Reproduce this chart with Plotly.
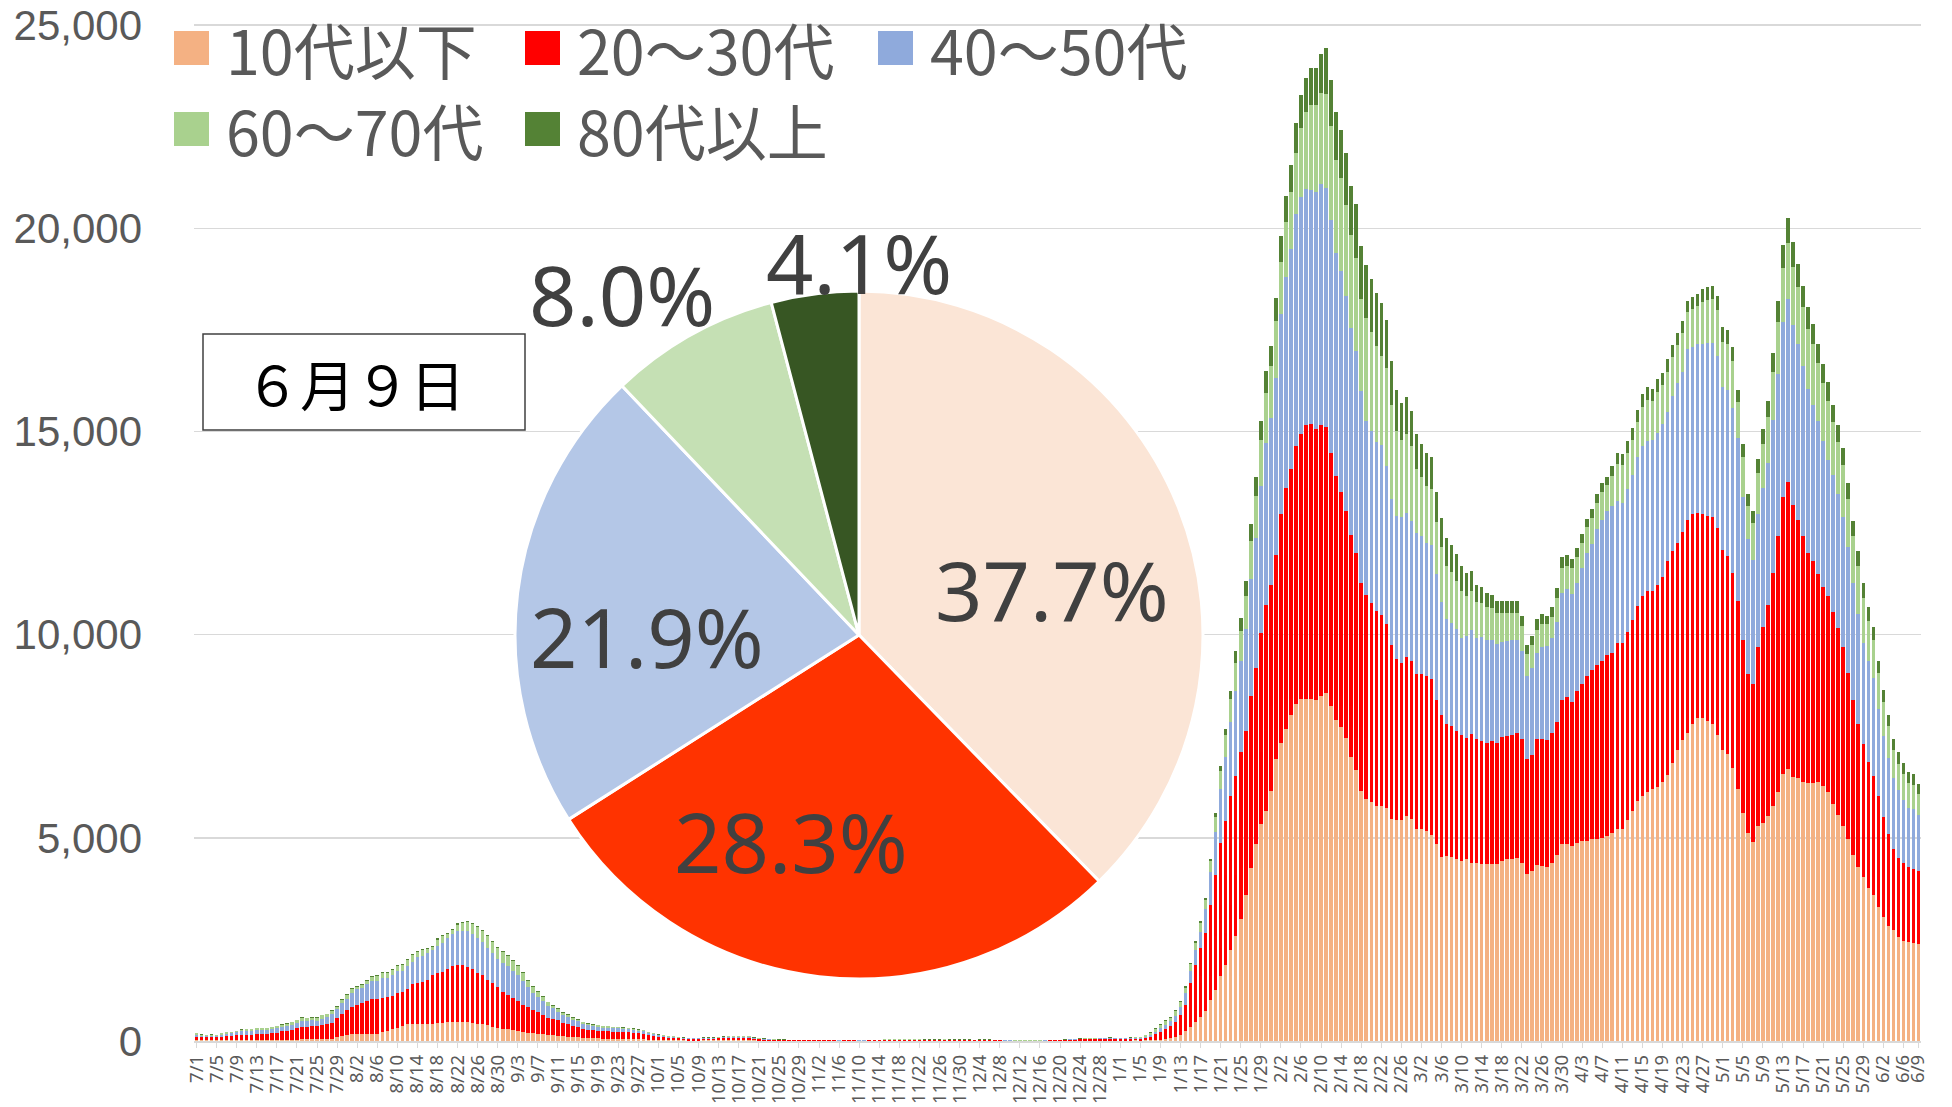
import plotly.graph_objects as go
import pandas as pd

# ---------------- data ----------------
series_names = ["10代以下", "20～30代", "40～50代", "60～70代", "80代以上"]
bar_colors = ["#F4B183", "#FF0000", "#8FAADC", "#A9D18E", "#548235"]
pie_colors = ["#FBE5D6", "#FF3300", "#B4C7E7", "#C5E0B4", "#375623"]

dates = pd.date_range("2021-07-01", "2022-06-09", freq="D")
date_labels = [f"{d.month}/{d.day}" for d in dates]

age_10 = [
    25,25,20,25,20,25,25,25,30,30,
    30,30,30,30,30,30,30,30,30,35,
    35,40,40,40,40,40,40,45,
    105,125,150,165,165,170,170,170,170,
    215,245,285,330,380,410,420,420,420,420,
    425,445,450,470,475,
    475,470,460,450,410,410,385,350,330,305,285,270,245,220,205,
    190,180,170,155,150,135,120,110,100,90,80,75,70,66,60,60,55,55,55,50,50,45,40,35,30,25,
    20,20,20,15,15,10,10,10,15,15,15,15,15,20,20,20,20,20,15,10,10,10,5,
    6,6,5,5,5,5,5,5,5,5,
    5,4,4,5,5,4,4,4,5,5,5,
    5,6,6,6,6,6,6,5,
    5,5,5,5,5,5,5,5,5,5,4,5,5,5,4,4,4,
    3,2,2,2,2,2,2,3,
    4,5,5,6,7,
    8,9,10,10,10,
    11,12,12,12,11,12,12,13,
    10,15,20,20,25,40,65,107,150,255,350,475,600,740,1010,1250,1600,1870,2230,2590,
    3000,3600,4250,4850,5340,5670,6160,6930,7340,7670,8030,8300,8410,8410,8410,8380,8490,8570,8250,7890,
    7720,7460,6980,6660,6160,5950,5870,5790,5790,5740,5460,5430,5430,5540,5460,5210,5210,5160,5080,4840,
    4520,4560,4520,4480,4430,4480,4390,4390,4360,4360,4360,4360,4430,4480,4480,4510,4390,4100,4180,4340,
    4300,4280,4370,4570,4860,4860,
    4810,4880,4930,4930,4970,4970,5000,5040,5130,5210,5210,5430,5660,5900,6030,6130,6190,6260,6370,6540,
    6830,7170,7410,7590,7810,7940,7940,7870,7790,7540,7170,7060,6730,6190,5610,5130,4900,5300,5370,5540,
    5790,6130,6570,6700,6500,6460,6370,6340,6340,6370,6270,6130,5830,5570,5300,4970,4570,4280,4040,3770,
    3600,3300,3040,2840,2730,2570,2460,2440,2410,2386,
]

age_20_30 = [
    80,80,70,75,70,80,90,100,110,120,
    120,125,135,140,150,160,175,210,225,235,
    275,305,305,330,330,345,370,405,
    455,530,610,680,720,755,820,865,870,
    850,845,830,860,835,870,980,1015,1040,1080,
    1200,1235,1255,1290,1370,
    1385,1390,1350,1310,1270,1215,1115,1070,1005,910,845,780,740,665,625,
    580,530,480,420,400,370,335,305,270,255,225,205,195,190,180,180,170,170,160,160,150,140,135,115,105,85,
    75,60,60,55,45,40,40,40,45,45,45,50,60,60,60,60,60,55,40,35,25,20,20,
    12,11,11,11,10,11,11,10,10,10,
    9,9,8,9,9,9,8,8,9,10,11,
    13,13,14,15,14,14,13,12,
    12,11,11,12,12,11,11,11,11,11,10,11,11,11,10,10,8,
    6,5,5,4,5,5,6,7,
    15,16,17,20,24,
    29,33,35,36,38,
    40,43,44,43,41,42,44,48,
    50,55,87,145,188,245,305,353,495,620,1070,1395,1680,1930,2340,2830,3280,3540,3800,3930,
    4100,4040,4240,4330,4710,5070,5070,5040,5630,5940,6040,6340,6520,6750,6770,6670,6670,6530,6230,6010,
    5800,5590,5480,5360,5100,5030,4920,4780,4700,4520,4290,3960,3880,3900,3880,3810,3810,3820,3820,3540,
    3510,3230,3230,3160,3090,2980,3170,3040,3020,2980,3020,2980,3050,3020,3060,3080,3040,2830,2870,3090,
    3130,3130,3200,3290,3540,3610,
    3530,3740,3860,4060,4150,4290,4360,4460,4430,4590,4590,4640,4700,4800,4910,4940,4880,4970,5060,5260,
    5240,5080,5120,5240,5150,5060,5020,5060,5100,5090,4920,4870,4790,4640,4260,3900,3890,4400,4830,5180,
    5730,6300,6820,7060,6700,6370,6060,5660,5460,5130,4890,4810,4730,4590,4400,4090,3820,3530,3260,3100,
    2930,2730,2460,2260,2000,1930,1910,1840,1830,1791,
]

age_40_50 = [
    45,25,35,35,40,55,65,65,75,95,
    100,100,105,105,100,115,115,115,125,125,
    125,155,155,140,130,155,170,215,
    220,270,280,345,385,385,410,440,445,
    475,470,500,530,515,575,550,625,630,675,
    615,665,695,765,785,
    835,845,890,880,860,805,800,740,685,705,705,670,635,590,490,
    410,370,330,285,250,220,190,170,150,135,120,110,105,95,90,90,85,85,80,80,75,65,65,55,45,35,
    25,20,20,15,15,15,15,15,15,15,15,15,20,20,20,20,20,20,15,15,15,10,10,
    10,10,9,9,8,9,9,9,8,8,
    7,7,7,7,8,7,7,7,7,8,9,
    10,11,11,11,11,11,10,10,
    9,9,9,9,10,9,9,9,9,8,8,8,9,9,8,7,7,
    5,4,3,3,3,4,4,6,
    5,5,6,6,8,
    9,10,11,12,12,
    13,14,14,14,13,13,14,15,
    20,35,43,48,97,110,130,160,200,295,300,370,410,570,800,1070,1310,1580,1810,2100,
    2260,2490,2870,3200,3610,3980,4100,4340,4910,5200,5410,5710,5830,5810,5770,5850,5920,5900,5730,5490,
    5430,5280,5080,4960,4740,4280,4210,4180,4170,3890,3590,3530,3590,3550,3460,3490,3410,3280,3310,3100,
    2770,2590,2530,2490,2400,2500,2560,2480,2550,2540,2490,2430,2340,2340,2320,2290,2160,2040,2130,2130,
    2260,2310,2350,2440,2630,2650,
    2660,2650,2860,3010,3110,3330,3470,3530,3600,3490,3430,3520,3560,3660,3690,3690,3720,3730,3760,3690,
    3790,3950,3940,4190,4130,4160,4200,4250,4290,4230,4000,4090,4060,4000,3520,3320,3040,3260,3400,3510,
    3770,3990,4300,4490,4420,4330,4190,4050,3850,3750,3600,3360,3370,3290,3190,3090,2880,2690,2490,2490,
    2410,2140,2000,1870,1740,1670,1560,1460,1460,1386,
]

age_60_70 = [
    35,30,25,25,20,25,30,25,25,35,
    40,35,45,45,40,35,40,45,45,65,
    70,70,65,60,70,90,75,85,
    65,85,95,90,65,75,80,105,115,
    140,125,135,130,145,130,155,125,145,100,
    80,150,190,105,95,
    170,200,220,240,260,270,280,280,270,270,250,240,220,190,150,
    140,120,105,90,65,60,55,55,45,40,40,35,30,34,35,35,35,35,30,30,25,25,20,20,20,15,
    20,15,15,15,10,10,10,10,10,10,10,15,15,20,20,20,20,20,15,15,10,10,10,
    9,7,7,7,7,7,7,7,7,6,
    6,6,6,6,6,6,6,5,6,6,7,
    12,12,13,14,13,12,12,12,
    11,11,10,11,11,11,10,10,10,10,10,10,10,10,10,9,8,
    6,5,4,4,4,5,5,6,
    4,4,4,5,6,
    7,8,8,9,9,
    10,10,11,10,10,10,11,11,
    20,35,50,80,90,100,75,110,115,145,170,175,220,235,280,370,450,540,570,690,
    740,820,950,1030,1140,1230,1280,1410,1300,1350,1420,1500,1700,1900,2080,2130,2250,2300,2300,2300,
    2280,2240,2300,2300,2250,2540,2440,2360,2200,2400,2300,2100,1900,1950,1830,1570,1450,1400,1370,1290,
    1350,1300,1250,1200,1150,1000,950,900,850,800,780,750,720,700,680,660,620,560,560,560,
    560,530,520,590,610,580,
    650,640,610,640,640,660,670,640,750,910,940,890,880,870,980,1010,960,1010,960,980,
    970,930,950,910,930,930,1030,1050,1070,1120,1120,1120,1150,890,980,820,920,1020,1090,1130,
    1180,1280,1340,1390,1430,1390,1430,1480,1500,1430,1420,1450,1300,1290,1280,1180,1150,1190,1110,980,
    930,880,830,770,680,650,630,620,605,506,
]

age_80 = [
    5,5,5,5,5,5,5,5,5,5,5,5,5,
    10,10,10,10,10,10,10,10,10,10,10,10,10,10,10,
    15,15,15,15,15,15,
    20,20,20,20,20,20,20,20,
    25,25,25,25,25,
    30,30,30,30,30,30,30,30,30,30,30,30,30,30,30,30,30,30,
    25,20,
    30,30,25,20,20,20,20,15,15,15,
    10,10,10,10,10,10,10,10,10,10,10,10,10,
    5,5,5,
    10,10,10,
    5,5,5,5,5,5,5,5,5,5,5,5,5,5,5,5,5,5,5,5,
    4,4,4,3,3,3,4,3,3,3,
    3,3,3,3,3,3,3,3,3,3,3,
    5,6,6,6,6,6,6,5,
    5,5,5,5,5,5,5,4,5,4,5,4,5,4,4,4,3,
    2,2,2,2,2,2,3,3,
    2,3,3,3,3,
    5,5,6,5,6,
    6,6,7,7,7,7,7,8,
    7,10,13,17,20,25,25,30,30,35,40,45,50,55,60,80,130,160,210,280,
    310,380,410,460,460,530,490,560,640,630,660,740,820,830,920,920,950,1130,1150,1180,
    1200,1280,1210,1310,1310,1300,1300,1300,1300,1200,1100,1000,900,900,880,850,820,800,780,750,
    720,700,680,650,620,560,500,420,380,350,330,300,280,280,280,280,250,220,230,260,
    250,220,230,250,260,260,
    220,220,210,210,220,220,230,220,250,280,280,280,290,290,310,320,300,320,300,310,
    300,290,300,290,300,290,320,330,340,350,350,350,360,300,320,280,300,340,370,400,
    450,520,560,620,600,560,540,520,500,480,470,470,430,420,420,400,380,380,360,330,
    320,310,300,290,280,280,270,270,265,260,
]

series_values = [age_10, age_20_30, age_40_50, age_60_70, age_80]
for s in series_values:
    assert len(s) == len(dates), len(s)

tick_idx = list(range(0, len(dates), 4)) + [len(dates) - 1]
tick_text = [date_labels[i] for i in tick_idx]
y_ticks = [0, 5000, 10000, 15000, 20000, 25000]

box_text = "６月９日"

# ---------------- figure ----------------
W, H = 1952, 1107
Y_MAX = 25100
L, R, B = 194, 1921, 1041
T = B - (B - 25) * Y_MAX / 25000.0
PW, PH = R - L, B - T


def px(x):
    return (x - L) / PW


def py(y):
    return (B - y) / PH


x_idx = list(range(len(dates)))
fig = go.Figure()
for name, vals, col in zip(series_names, series_values, bar_colors):
    fig.add_trace(go.Bar(
        x=x_idx, y=vals, name=name, marker=dict(color=col, line=dict(width=0)),
        showlegend=False, hoverinfo="skip",
    ))

last_vals = [s[-1] for s in series_values]
fig.add_trace(go.Pie(
    values=last_vals, labels=series_names, sort=False, direction="clockwise",
    rotation=0, textinfo="none", hoverinfo="skip", showlegend=False,
    marker=dict(colors=pie_colors, line=dict(color="white", width=3)),
    domain=dict(x=[px(859 - 344), px(859 + 344)], y=[py(979), py(291)]),
))

tot = sum(last_vals)
pct_text = [f"{v / tot * 100:.1f}%" for v in last_vals]
pct_pos = [(1052, 588), (791, 840), (647, 635), (622, 293), (859, 261)]

annotations = []
for t, (ax, ay) in zip(pct_text, pct_pos):
    annotations.append(dict(
        x=px(ax), y=py(ay), xref="paper", yref="paper", text=t, showarrow=False,
        xanchor="center", yanchor="middle",
        font=dict(family="Noto Sans", size=83, color="#404040"),
    ))

shapes = []
leg_pos = [(174, 48), (525, 48), (878, 48), (174, 129), (525, 129)]
for name, col, (lx, ly) in zip(series_names, bar_colors, leg_pos):
    shapes.append(dict(
        type="rect", xref="paper", yref="paper",
        x0=px(lx), x1=px(lx + 35), y0=py(ly + 17), y1=py(ly - 17),
        fillcolor=col, line=dict(width=0), layer="above",
    ))
    annotations.append(dict(
        x=px(lx + 50), y=py(ly), xref="paper", yref="paper", text=name,
        showarrow=False, xanchor="left", yanchor="middle",
        font=dict(family="Noto Sans CJK JP", size=61, color="#595959"),
    ))

shapes.append(dict(
    type="rect", xref="paper", yref="paper",
    x0=px(203), x1=px(525), y0=py(430), y1=py(334),
    fillcolor="white", line=dict(color="#404040", width=1.5), layer="above",
))
annotations.append(dict(
    x=px(355), y=py(382), xref="paper", yref="paper", text=box_text,
    showarrow=False, xanchor="center", yanchor="middle",
    font=dict(family="Noto Sans CJK JP", size=55, color="#000000"),
))

fig.update_layout(
    width=W, height=H,
    margin=dict(l=L, r=W - R, t=T, b=H - B, pad=0),
    barmode="stack", bargap=0.3,
    plot_bgcolor="white", paper_bgcolor="white",
    shapes=shapes, annotations=annotations,
    xaxis=dict(
        range=[-0.5, len(dates) - 0.5], tickmode="array", tickvals=tick_idx,
        ticktext=tick_text, tickangle=-90, ticks="outside", ticklen=5,
        tickcolor="#D9D9D9", showline=True, linecolor="#D9D9D9", linewidth=1.5,
        showgrid=False, zeroline=False, automargin=False,
        tickfont=dict(family="Noto Sans", size=18.5, color="#595959"),
    ),
    yaxis=dict(
        range=[0, Y_MAX], tickmode="array", tickvals=y_ticks,
        ticktext=[f"{v:,}" for v in y_ticks], showgrid=True, gridcolor="#D9D9D9",
        gridwidth=1.5, zeroline=False, showline=False, ticks="", automargin=False,
        ticklabelstandoff=51, ticklabeloverflow="allow",
        tickfont=dict(family="Liberation Sans", size=42, color="#595959"),
    ),
)

fig.write_html(
    "out.html",
    config={"displayModeBar": False, "staticPlot": True},
    post_script="document.body.style.margin='0px';",
)
